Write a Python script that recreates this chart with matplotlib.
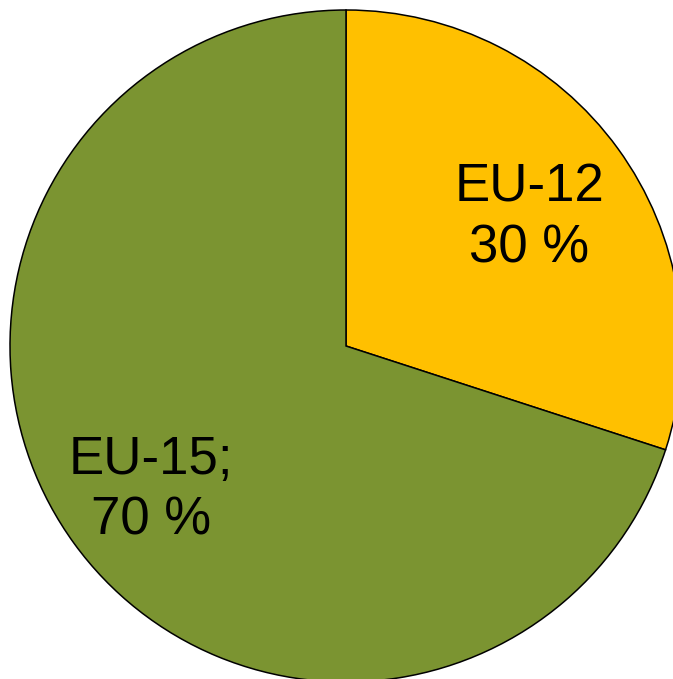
import matplotlib
matplotlib.use("Agg")
import matplotlib.pyplot as plt

categories = ["EU-12", "EU-15"]
shares = [30, 70]
labels = ["EU-12\n30 %", "EU-15;\n70 %"]
colors = ["#FFC000", "#7B9431"]

W, H = 673, 679
cx, cy, r = 346, 346, 336  # pixels from top-left

fig = plt.figure(figsize=(W / 100, H / 100), dpi=100)
ax = fig.add_axes([0, 0, 1, 1])
ax.pie(shares, colors=colors, startangle=90, counterclock=False,
       wedgeprops={"edgecolor": "black", "linewidth": 1.1})
ax.set_xlim(-cx / r, (W - cx) / r)
ax.set_ylim(-(H - cy) / r, cy / r)
ax.set_aspect("auto")
ax.axis("off")

# label positions (pixel coords)
pos = [(529, 218), (151, 490)]
for (px, py), txt in zip(pos, labels):
    ax.text((px - cx) / r, (cy - py) / r, txt, ha="center", va="center",
            fontsize=38, family="Liberation Sans", linespacing=1.28)

fig.savefig("out.png", dpi=100)
